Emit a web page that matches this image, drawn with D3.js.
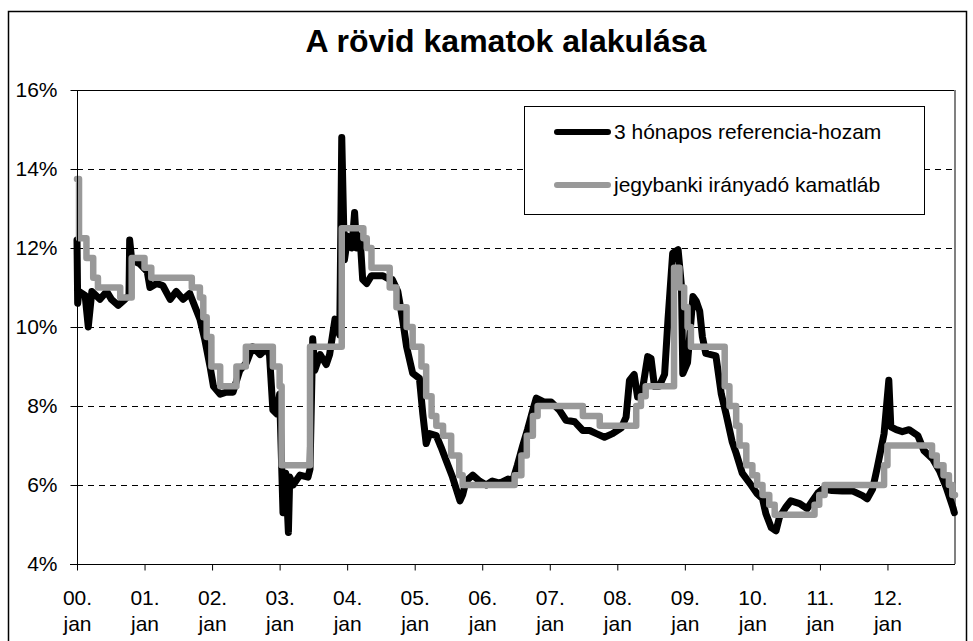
<!DOCTYPE html>
<html>
<head>
<meta charset="utf-8">
<script src="https://cdn.jsdelivr.net/npm/d3@7/dist/d3.min.js"></script>
<style>
  html, body { margin: 0; padding: 0; background: #fff; }
  text { font-family: "Liberation Sans", Arial, sans-serif; }
</style>
</head>
<body>
<svg id="chart" width="973" height="641"></svg>
<script>
// ---- Data ----
const chartTitle = "A rövid kamatok alakulása";
const seriesNames = ["3 hónapos referencia-hozam", "jegybanki irányadó kamatláb"];
const yearTicks = [2000,2001,2002,2003,2004,2005,2006,2007,2008,2009,2010,2011,2012];
const yearLabels = ["00.","01.","02.","03.","04.","05.","06.","07.","08.","09.","10.","11.","12."];
const monthLabel = "jan";
const yTicks = [4,6,8,10,12,14,16];

// 3-month reference yield (decimal year, %)
const refTimes = [2000.00,2000.01,2000.03,2000.12,2000.167,2000.22,2000.34,2000.44,2000.51,2000.61,2000.71,2000.77,2000.78,2000.81,2000.93,2001.04,2001.08,2001.18,2001.27,2001.38,2001.47,2001.57,2001.67,2001.75,2001.82,2001.89,2001.97,2002.02,2002.12,2002.21,2002.31,2002.41,2002.51,2002.60,2002.71,2002.80,2002.85,2002.90,2002.96,2003.00,2003.05,2003.09,2003.13,2003.15,2003.20,2003.30,2003.42,2003.45,2003.49,2003.52,2003.60,2003.69,2003.74,2003.82,2003.89,2003.92,2003.96,2004.01,2004.07,2004.11,2004.14,2004.19,2004.23,2004.29,2004.36,2004.43,2004.53,2004.63,2004.67,2004.75,2004.82,2004.88,2004.97,2005.07,2005.12,2005.17,2005.22,2005.32,2005.39,2005.47,2005.56,2005.67,2005.71,2005.76,2005.86,2005.96,2006.06,2006.15,2006.26,2006.38,2006.45,2006.52,2006.60,2006.67,2006.75,2006.80,2006.92,2007.02,2007.14,2007.24,2007.37,2007.49,2007.59,2007.69,2007.81,2007.93,2008.06,2008.13,2008.18,2008.25,2008.30,2008.38,2008.45,2008.50,2008.55,2008.62,2008.70,2008.75,2008.82,2008.90,2008.95,2008.97,2009.04,2009.12,2009.17,2009.22,2009.26,2009.31,2009.46,2009.54,2009.61,2009.70,2009.76,2009.85,2009.98,2010.07,2010.15,2010.20,2010.28,2010.35,2010.40,2010.50,2010.57,2010.70,2010.81,2010.89,2010.97,2011.04,2011.18,2011.33,2011.48,2011.63,2011.70,2011.78,2011.85,2011.90,2011.95,2012.02,2012.05,2012.13,2012.22,2012.32,2012.45,2012.54,2012.67,2012.77,2012.87,2012.97,2012.99];
const refValues = [12.2,10.6,10.9,10.8,10.0,10.9,10.7,10.9,10.7,10.55,10.7,10.8,12.2,11.7,11.6,11.4,11.0,11.1,11.05,10.7,10.9,10.7,10.85,10.5,10.2,9.7,9.0,8.5,8.3,8.35,8.35,8.9,9.1,9.5,9.3,9.45,9.3,7.9,7.8,8.3,5.3,6.3,4.8,6.2,6.0,6.25,6.2,6.4,9.7,8.9,9.3,9.05,9.3,10.2,9.8,14.8,11.7,12.3,12.0,12.9,12.0,12.3,11.2,11.1,11.3,11.3,11.3,11.2,11.2,10.9,10.2,9.5,8.83,8.7,7.8,7.05,7.3,7.25,6.96,6.6,6.2,5.6,5.75,6.1,6.25,6.1,6.0,6.1,6.05,6.15,6.1,6.5,7.0,7.4,7.9,8.2,8.1,8.1,7.9,7.64,7.6,7.38,7.38,7.3,7.21,7.3,7.45,7.72,8.65,8.8,8.23,8.5,9.25,9.2,8.5,8.5,8.8,10.18,11.87,11.96,11.03,8.82,9.1,10.77,10.65,10.4,9.75,9.33,9.27,8.3,7.8,7.1,6.8,6.3,6.0,5.78,5.65,5.27,4.92,4.84,5.18,5.45,5.6,5.53,5.4,5.6,5.8,5.9,5.86,5.85,5.85,5.73,5.65,5.9,6.45,6.87,7.3,8.65,7.47,7.4,7.35,7.4,7.25,6.87,6.66,6.36,5.94,5.43,5.3];

// Central bank policy rate (step changes: decimal year, %)
const baseTimes = [2000.00,2000.03,2000.14,2000.24,2000.31,2000.64,2000.81,2001.00,2001.10,2001.70,2001.82,2001.87,2001.92,2001.99,2002.12,2002.36,2002.50,2002.90,2003.00,2003.03,2003.45,2003.92,2004.24,2004.29,2004.36,2004.63,2004.73,2004.88,2004.97,2005.10,2005.17,2005.25,2005.32,2005.42,2005.54,2005.66,2005.71,2006.48,2006.58,2006.66,2006.75,2006.82,2007.49,2007.74,2008.28,2008.35,2008.42,2008.84,2008.92,2008.99,2009.04,2009.09,2009.59,2009.66,2009.76,2009.81,2009.91,2010.00,2010.07,2010.15,2010.25,2010.33,2010.92,2010.99,2011.07,2011.95,2012.00,2012.66,2012.73,2012.83,2012.91,2012.96,2013.00];
const baseValues = [13.75,12.25,11.75,11.25,11.0,10.75,11.75,11.5,11.25,11.0,10.75,10.25,9.75,9.0,8.5,9.0,9.5,9.0,8.5,6.5,9.5,12.5,12.25,12.0,11.5,11.0,10.5,10.0,9.5,9.0,8.25,7.75,7.5,7.25,6.75,6.25,6.0,6.25,6.75,7.25,7.75,8.0,7.75,7.5,8.0,8.25,8.5,11.5,11.0,10.5,10.0,9.5,8.5,8.0,7.5,7.0,6.5,6.25,6.0,5.75,5.5,5.25,5.5,5.75,6.0,6.5,7.0,6.75,6.5,6.25,6.0,5.75,5.75];

// ---- Drawing ----
const svg = d3.select("#chart");
const plot = {left: 77, right: 955, top: 90, bottom: 564};

const x = d3.scaleLinear().domain([2000, 2013]).range([plot.left, plot.right]);
const y = d3.scaleLinear().domain([4, 16]).range([plot.bottom, plot.top]);

// outer frame
svg.append("rect").attr("x", 8.5).attr("y", 11.5).attr("width", 958).attr("height", 640)
  .attr("fill", "none").attr("stroke", "#000").attr("stroke-width", 1.5);

// title
svg.append("text").attr("x", 506).attr("y", 52).attr("text-anchor", "middle")
  .attr("font-size", 32).attr("font-weight", "bold").attr("fill", "#000").text(chartTitle);

// gridlines
svg.append("g").selectAll("line").data(yTicks.filter(d => d > 4 && d < 16)).join("line")
  .attr("x1", plot.left).attr("x2", plot.right)
  .attr("y1", d => Math.round(y(d)) + 0.5).attr("y2", d => Math.round(y(d)) + 0.5)
  .attr("stroke", "#000").attr("stroke-width", 1).attr("stroke-dasharray", "6,5");

// plot top and right borders
svg.append("line").attr("x1", plot.left).attr("x2", plot.right)
  .attr("y1", plot.top + 0.5).attr("y2", plot.top + 0.5).attr("stroke", "#000").attr("stroke-width", 1);
svg.append("line").attr("x1", plot.right).attr("x2", plot.right)
  .attr("y1", plot.top).attr("y2", plot.bottom).attr("stroke", "#808080").attr("stroke-width", 2);

// series
const refData = refTimes.map((t, i) => [t, refValues[i]]);
const baseData = baseTimes.map((t, i) => [t, baseValues[i]]);

svg.append("path").datum(refData)
  .attr("fill", "none").attr("stroke", "#000").attr("stroke-width", 7)
  .attr("stroke-linejoin", "round").attr("stroke-linecap", "round")
  .attr("d", d3.line().x(d => x(d[0])).y(d => y(d[1])));

svg.append("path").datum(baseData)
  .attr("fill", "none").attr("stroke", "#999999").attr("stroke-width", 6.5)
  .attr("stroke-linejoin", "round").attr("stroke-linecap", "round")
  .attr("d", d3.line().curve(d3.curveStepAfter).x(d => x(d[0])).y(d => y(d[1])));

// y axis
const yAxis = svg.append("g").attr("transform", `translate(${plot.left + 0.5},0)`)
  .call(d3.axisLeft(y).tickValues(yTicks).tickSize(7).tickPadding(13).tickFormat(d => d + "%"));
yAxis.select(".domain").attr("stroke", "#000").attr("d", `M-0,${plot.top}V${plot.bottom}`);
yAxis.selectAll("text").attr("font-size", 21).attr("font-family", "Liberation Sans, Arial, sans-serif").attr("fill", "#000");

// x axis
const xAxis = svg.append("g").attr("transform", `translate(0,${plot.bottom + 0.5})`)
  .call(d3.axisBottom(x).tickValues(yearTicks).tickSize(6).tickFormat(""));
xAxis.select(".domain").attr("d", `M${plot.left - 7},0H${plot.right}`).attr("stroke", "#000");
xAxis.selectAll(".tick").each(function(d, i) {
  const t = d3.select(this).append("text").attr("fill", "#000").attr("font-size", 21)
    .attr("font-family", "Liberation Sans, Arial, sans-serif").attr("text-anchor", "middle");
  t.append("tspan").attr("x", 0).attr("y", 40).text(yearLabels[i]);
  t.append("tspan").attr("x", 0).attr("y", 66).text(monthLabel);
});

// legend
const lg = svg.append("g");
lg.append("rect").attr("x", 524.5).attr("y", 106.5).attr("width", 400).attr("height", 108)
  .attr("fill", "#fff").attr("stroke", "#000").attr("stroke-width", 1);
const legendColors = ["#000", "#999999"];
const legendY = [132, 185];
seriesNames.forEach((name, i) => {
  lg.append("line").attr("x1", 557).attr("x2", 608).attr("y1", legendY[i]).attr("y2", legendY[i])
    .attr("stroke", legendColors[i]).attr("stroke-width", 6).attr("stroke-linecap", "round");
  lg.append("text").attr("x", 614).attr("y", legendY[i] + 7).attr("font-size", 21)
    .attr("fill", "#000").text(name);
});
</script>
</body>
</html>
